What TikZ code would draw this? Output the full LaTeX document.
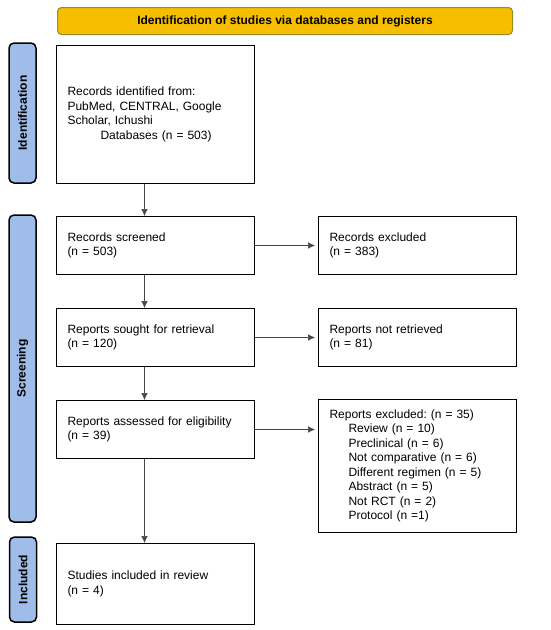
\documentclass[tikz,border=0pt]{standalone}
\usepackage{fontspec}
\setmainfont{Liberation Sans}
\frenchspacing
\usetikzlibrary{positioning,arrows.meta}

\definecolor{hdrfill}{RGB}{247,190,0}
\definecolor{hdrdraw}{RGB}{150,140,40}
\definecolor{sidefill}{RGB}{160,188,232}
\definecolor{arrgray}{RGB}{70,70,70}

\begin{document}
\begin{tikzpicture}[
        x=1pt, y=1pt,
        box/.style={rectangle, draw=black, line width=1pt, fill=white, text width=176pt, inner xsep=11pt, align=left, minimum height=58pt, font=\fontsize{12}{14.5}\selectfont},
        side/.style={rectangle, rounded corners=5pt, draw=black, line width=1.5pt, fill=sidefill, rotate=90, minimum height=27pt, inner sep=0pt, font=\fontsize{12}{14}\selectfont\bfseries},
        header/.style={rectangle, rounded corners=4pt, draw=hdrdraw, line width=1pt, fill=hdrfill, minimum width=455pt, minimum height=27pt, font=\fontsize{12}{14}\selectfont\bfseries},
        arr/.style={-{Latex[length=7pt, width=6.5pt]}, draw=arrgray, line width=0.6pt},
        node distance=33pt and 63pt
    ]
    \useasboundingbox (0,0) rectangle (550,-630);

    \node[box, minimum height=138pt, anchor=north west] (ident) at (56,-45)
        {Records identified from:\\ PubMed, CENTRAL, Google\\ Scholar, Ichushi\\ \hspace*{33pt}Databases (n = 503)};
    \node[header] (head) [above=10pt of ident.north west, anchor=south west, xshift=1pt] {Identification of studies via databases and registers};

    \node[box] (screened) [below=32pt of ident] {Records screened\\ (n = 503)};
    \node[box] (excl)     [right=of screened]   {Records excluded\\ (n = 383)};
    \node[box] (sought)   [below=of screened]   {Reports sought for retrieval\\ (n = 120)};
    \node[box] (notret)   [right=of sought]     {Reports not retrieved\\ (n = 81)};
    \node[box] (assessed) [below=of sought]     {Reports assessed for eligibility\\ (n = 39)};
    \node[box, minimum height=133pt] (exclrep) [right=of assessed.north east, anchor=north west, yshift=1pt]
        {Reports excluded: (n = 35)\\
         \hspace*{19pt}Review (n = 10)\\
         \hspace*{19pt}Preclinical (n = 6)\\
         \hspace*{19pt}Not comparative (n = 6)\\
         \hspace*{19pt}Different regimen (n = 5)\\
         \hspace*{19pt}Abstract (n = 5)\\
         \hspace*{19pt}Not RCT (n = 2)\\
         \hspace*{19pt}Protocol (n =1)};
    \node[box, minimum height=81pt] (incl) [below=84pt of assessed] {Studies included in review\\ (n = 4)};

    % phase labels on the left
    \node[side, minimum width=140pt] (sideid)   at (22.5,-113)   {Identification};
    \node[side, minimum width=307pt] (sidescr)  at (22.5,-368.5) {Screening};
    \node[side, minimum width=85pt]  (sideincl) at (23,-579.5)   {Included};

    \draw[arr] ([xshift=-11pt]ident.south)    -- ([xshift=-11pt]screened.north);
    \draw[arr] ([xshift=-11pt]screened.south) -- ([xshift=-11pt]sought.north);
    \draw[arr] ([xshift=-11pt]sought.south)   -- ([xshift=-11pt]assessed.north);
    \draw[arr] ([xshift=-11pt]assessed.south) -- ([xshift=-11pt]incl.north);
    \draw[arr] (screened.east) -- ([xshift=-3pt]excl.west);
    \draw[arr] (sought.east)   -- ([xshift=-3pt]notret.west);
    \draw[arr] (assessed.east) -- ([xshift=-3pt]assessed.east -| exclrep.west);
\end{tikzpicture}
\end{document}
